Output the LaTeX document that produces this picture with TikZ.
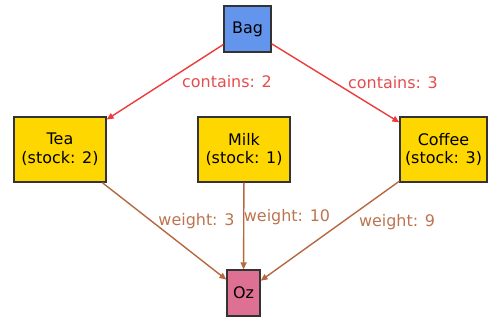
\documentclass[tikz,border=0pt]{standalone}
\usepackage{fontspec}
\setmainfont{DejaVu Sans}
\usetikzlibrary{arrows.meta}

\definecolor{bagblue}{RGB}{100,149,237}
\definecolor{itemgold}{RGB}{255,215,0}
\definecolor{ozpink}{RGB}{222,112,147}
\definecolor{edgered}{RGB}{238,58,58}
\definecolor{labelred}{RGB}{230,76,76}
\definecolor{edgebrown}{RGB}{182,104,64}
\definecolor{labelbrown}{RGB}{188,116,80}

\tikzset{
  box/.style={draw=black!80, line width=1.3bp, inner sep=0pt, align=center,
    font=\fontsize{16}{19}\selectfont},
  contains/.style={draw=edgered, line width=1.4bp, -{Triangle[length=7bp,width=6bp]}},
  weighs/.style={draw=edgebrown, line width=1.4bp, -{Triangle[length=7bp,width=6bp]}},
  redlabel/.style={text=labelred, anchor=base, inner sep=0pt, font=\fontsize{16}{18}\selectfont},
  brownlabel/.style={text=labelbrown, anchor=base, inner sep=0pt, font=\fontsize{16}{18}\selectfont}
}

\begin{document}
\begin{tikzpicture}[x=1bp, y=-1bp]
    \useasboundingbox (0, 0) rectangle (488, 320);

    \node (bag) at (247.5, 29) [box, fill=bagblue, minimum width=47bp, minimum height=46bp] {Bag};
    \node (tea) at (60, 149.5) [box, fill=itemgold, minimum width=92bp, minimum height=65bp] {Tea\\(stock: 2)};
    \node (milk) at (244, 149.5) [box, fill=itemgold, minimum width=92bp, minimum height=65bp] {Milk\\(stock: 1)};
    \node (coffee) at (443.5, 149.5) [box, fill=itemgold, minimum width=87bp, minimum height=65bp] {Coffee\\(stock: 3)};
    \node (oz) at (243.5, 293) [box, fill=ozpink, minimum width=33bp, minimum height=46bp] {Oz};

    \draw [contains] (bag) -- (tea)
      node[redlabel] at (227, 87) {contains: 2};
    \draw [contains] (bag) -- (coffee)
      node[redlabel] at (393, 88) {contains: 3};

    \draw [weighs] (tea) -- (oz)
      node[brownlabel] at (196.5, 225) {weight: 3};
    \draw [weighs] (milk) -- (oz)
      node[brownlabel] at (287, 221) {weight: 10};
    \draw [weighs] (coffee) -- (oz)
      node[brownlabel] at (397, 226) {weight: 9};
\end{tikzpicture}
\end{document}
